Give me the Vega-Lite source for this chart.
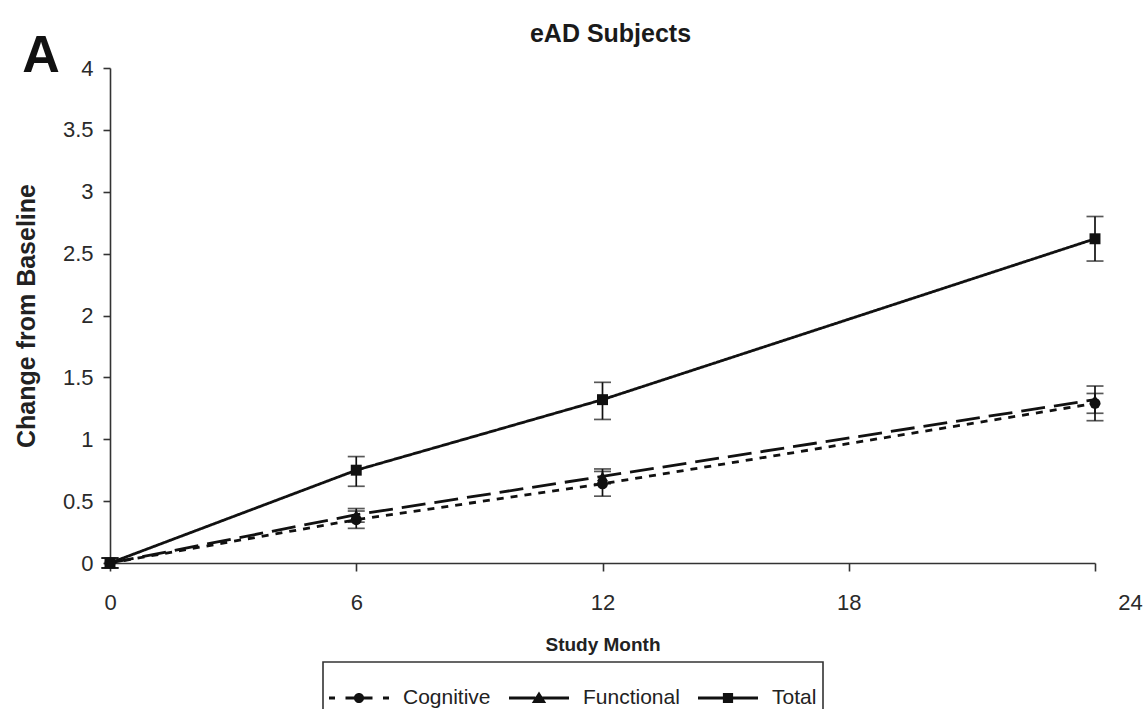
{
  "$schema": "https://vega.github.io/schema/vega-lite/v6.json",
  "width": 985,
  "height": 495,
  "autosize": {"type": "none"},
  "padding": {"left": 110, "top": 68, "right": 53, "bottom": 146},
  "background": "white",
  "config": {
    "view": {"stroke": null},
    "font": "Liberation Sans",
    "axis": {
      "labelFont": "Liberation Sans",
      "titleFont": "Liberation Sans",
      "labelColor": "#2a2a2a",
      "titleColor": "#222",
      "domainColor": "#333",
      "tickColor": "#333",
      "domainWidth": 1.6,
      "tickWidth": 1.6,
      "grid": false
    },
    "legend": {
      "labelFont": "Liberation Sans",
      "strokeWidth": 1.6
    }
  },
  "title": {
    "text": "eAD Subjects",
    "fontSize": 25,
    "fontWeight": "bold",
    "font": "Liberation Sans",
    "color": "#1a1a1a",
    "anchor": "middle",
    "frame": "group",
    "dx": 8,
    "offset": -17
  },
  "data": {
    "values": [
      {"series": "Total", "month": 0, "value": 0, "lo": -0.04, "hi": 0.04},
      {"series": "Total", "month": 6, "value": 0.75, "lo": 0.62, "hi": 0.86},
      {"series": "Total", "month": 12, "value": 1.32, "lo": 1.16, "hi": 1.46},
      {"series": "Total", "month": 24, "value": 2.62, "lo": 2.44, "hi": 2.8},
      {"series": "Cognitive", "month": 0, "value": 0, "lo": -0.04, "hi": 0.04},
      {"series": "Cognitive", "month": 6, "value": 0.35, "lo": 0.28, "hi": 0.42},
      {"series": "Cognitive", "month": 12, "value": 0.64, "lo": 0.54, "hi": 0.74},
      {"series": "Cognitive", "month": 24, "value": 1.29, "lo": 1.15, "hi": 1.43},
      {"series": "Functional", "month": 0, "value": 0, "lo": -0.04, "hi": 0.04},
      {"series": "Functional", "month": 6, "value": 0.39, "lo": 0.33, "hi": 0.44},
      {"series": "Functional", "month": 12, "value": 0.7, "lo": 0.64, "hi": 0.76},
      {"series": "Functional", "month": 24, "value": 1.32, "lo": 1.21, "hi": 1.37}
    ]
  },
  "encoding": {
    "x": {
      "field": "month",
      "type": "quantitative",
      "scale": {"domain": [0, 24], "nice": false},
      "axis": {
        "values": [0, 6, 12, 18, 24],
        "title": "Study Month",
        "titleFontSize": 19,
        "titleFontWeight": "bold",
        "titlePadding": 22,
        "labelFontSize": 22,
        "labelPadding": 21,
        "labelFlush": false,
        "tickSize": 8,
        "labelOffset": {"condition": {"test": "datum.value == 24", "value": 35}, "value": 0}
      }
    },
    "y": {
      "field": "value",
      "type": "quantitative",
      "scale": {"domain": [0, 4], "nice": false},
      "axis": {
        "values": [0, 0.5, 1, 1.5, 2, 2.5, 3, 3.5, 4],
        "format": "~g",
        "title": "Change from Baseline",
        "titleFontSize": 25,
        "titleFontWeight": "bold",
        "titlePadding": 23,
        "labelFontSize": 22,
        "labelPadding": 10,
        "tickSize": 7
      }
    }
  },
  "layer": [
    {
      "mark": {"type": "line", "color": "#111", "strokeWidth": 2.8},
      "encoding": {
        "detail": {"field": "series"},
        "strokeDash": {
          "field": "series",
          "type": "nominal",
          "scale": {"domain": ["Cognitive", "Functional", "Total"], "range": [[7, 7], [24, 9], [1, 0]]},
          "legend": null
        }
      }
    },
    {
      "mark": {"type": "rule", "color": "#111", "strokeWidth": 1.7},
      "encoding": {
        "y": {"field": "lo", "type": "quantitative"},
        "y2": {"field": "hi"}
      }
    },
    {
      "mark": {"type": "tick", "orient": "horizontal", "color": "#111", "size": 17, "thickness": 1.7},
      "encoding": {
        "y": {"field": "lo", "type": "quantitative"}
      }
    },
    {
      "mark": {"type": "tick", "orient": "horizontal", "color": "#111", "size": 17, "thickness": 1.7},
      "encoding": {
        "y": {"field": "hi", "type": "quantitative"}
      }
    },
    {
      "mark": {"type": "point", "filled": true, "color": "#111", "opacity": 1, "size": 120},
      "encoding": {
        "shape": {
          "field": "series",
          "type": "nominal",
          "scale": {"domain": ["Cognitive", "Functional", "Total"], "range": ["circle", "triangle-up", "square"]},
          "legend": null
        }
      }
    },
    {
      "transform": [{"filter": "false"}],
      "mark": {"type": "point", "filled": true, "color": "#111", "opacity": 1},
      "encoding": {
        "shape": {
          "field": "series",
          "type": "nominal",
          "scale": {
            "domain": ["Cognitive", "Functional", "Total"],
            "range": [
              "M-1,-0.05H-0.8V0.05H-1Z M-0.45,-0.05H-0.12V0.05H-0.45Z M0.12,-0.05H0.45V0.05H0.12Z M0.8,-0.05H1V0.05H0.8Z M0.17,0A0.17,0.17,0,1,1,-0.17,0A0.17,0.17,0,1,1,0.17,0Z",
              "M-1,-0.05H-0.12V0.05H-1Z M0.05,-0.05H1V0.05H0.05Z M0,-0.22L0.24,0.17H-0.24Z",
              "M-1,-0.05H1V0.05H-1Z M-0.17,-0.17H0.17V0.17H-0.17Z"
            ]
          },
          "legend": {
            "title": null,
            "orient": "none",
            "legendX": 213,
            "legendY": 594,
            "direction": "horizontal",
            "columns": 3,
            "symbolSize": 3600,
            "symbolStrokeWidth": 0,
            "symbolFillColor": "#111",
            "symbolOpacity": 1,
            "labelFontSize": 21,
            "labelColor": "#222",
            "labelOffset": 14,
            "columnPadding": 18,
            "padding": 6,
            "strokeColor": "#333"
          }
        }
      }
    },
    {
      "data": {"values": [{"label": "A", "month": -1.68, "value": 3.97}]},
      "mark": {"type": "text", "fontSize": 52, "fontWeight": "bold", "font": "Liberation Sans", "color": "#111", "align": "center", "baseline": "alphabetic"},
      "encoding": {
        "text": {"field": "label"}
      }
    }
  ],
  "resolve": {"scale": {"shape": "independent"}, "legend": {"shape": "independent"}}
}
